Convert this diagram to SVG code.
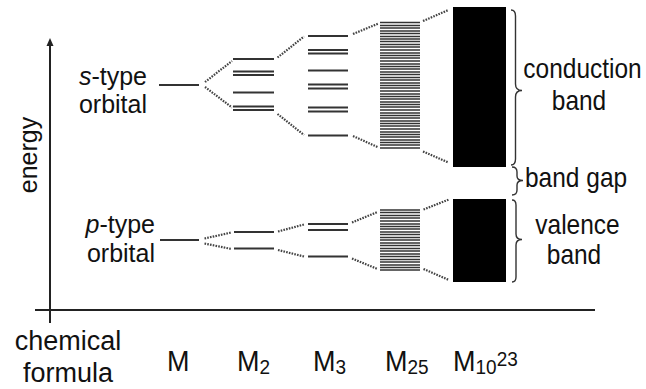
<svg xmlns="http://www.w3.org/2000/svg" width="646" height="389" viewBox="0 0 646 389">
<defs>
<style>
text{font-family:"Liberation Sans",Arial,sans-serif;fill:#111}
.lv{stroke:#333;stroke-width:2;fill:none}
.blk{stroke:#333;stroke-width:1.7;fill:none}
.dot{stroke:#444;stroke-width:2.2;stroke-dasharray:1.6 1.2;fill:none}
.ax{stroke:#222;stroke-width:2;fill:none}
.br{stroke:#333;stroke-width:1.4;fill:none}
.lab{font-size:25px}
.rl{font-size:24.5px}
.bot{font-size:27px}
</style>
</defs>
<rect width="646" height="389" fill="#fff"/>

<g id="axes">
<line class="ax" x1="50" y1="323" x2="50" y2="45"/>
<path d="M46.5,46 L50,38 L53.5,46 Z" fill="#222"/>
<line class="ax" x1="35" y1="310" x2="595" y2="310"/>
<text class="lab" font-size="26" transform="translate(37,155) rotate(-90)" text-anchor="middle">energy</text>
</g>

<g id="labels-left">
<text class="lab" x="147" y="85" text-anchor="end"><tspan font-style="italic">s</tspan>-type</text>
<text class="lab" x="147" y="113" text-anchor="end">orbital</text>
<text class="lab" x="155" y="233" text-anchor="end"><tspan font-style="italic">p</tspan>-type</text>
<text class="lab" x="155" y="261.5" text-anchor="end">orbital</text>
</g>

<g id="col-M">
<line class="lv" x1="159" y1="85" x2="199" y2="85"/>
<line class="lv" x1="160" y1="240" x2="199" y2="240"/>
</g>

<g id="col-M2">
<path class="lv" d="M233,59H274M233,71.5H274M233,75H274M233,92.5H274M233,106.5H274M233,110H274"/>
<path class="lv" d="M234,232H274M234,248.5H274"/>
</g>

<g id="col-M3">
<path class="lv" d="M308,36H348M308,50H348M308,53.5H348M308,70.5H348M308,84.5H348M308,88.5H348M308,107.5H348M308,111.5H348M308,135.5H348"/>
<path class="lv" d="M308,224H348M308,230H348M308,256.5H348"/>
</g>

<g id="col-M25">
<path class="blk" d="M380,22.5h40M380,25.5h40M380,28h40M380,31h40M380,33.5h40M380,36.5h40M380,39h40M380,41.5h40M380,44.5h40M380,47h40M380,50h40M380,53h40M380,55.5h40M380,58h40M380,61h40M380,64h40M380,66.5h40M380,69h40M380,72h40M380,74.5h40M380,77.5h40M380,80h40M380,83h40M380,85.5h40M380,88h40M380,91h40M380,94h40M380,96.5h40M380,99h40M380,102h40M380,104.5h40M380,107h40M380,110h40M380,113h40M380,115.5h40M380,118h40M380,121h40M380,123.5h40M380,126h40M380,129h40M380,132h40M380,134.5h40M380,137h40M380,140h40M380,142.5h40M380,145h40M380,148h40"/>
<path class="blk" d="M380,210h40M380,212.5h40M380,215.5h40M380,218h40M380,221h40M380,224h40M380,226.5h40M380,229h40M380,232h40M380,234.5h40M380,237.5h40M380,240h40M380,243h40M380,245.5h40M380,248.5h40M380,251h40M380,254h40M380,256.5h40M380,259.5h40M380,262h40M380,265h40M380,267.5h40M380,270h40"/>
</g>

<g id="col-M1023">
<rect x="453" y="7" width="53" height="160" fill="#000"/>
<rect x="453" y="199" width="53" height="83" fill="#000"/>
</g>

<g id="connectors">
<path class="dot" d="M205,82 L232,61 M205,87 L232,107.5"/>
<path class="dot" d="M277.5,57.5 L304,36.5 M277.5,114 L304,135"/>
<path class="dot" d="M353,34 L378.5,23.5 M353,136 L378.5,147.5"/>
<path class="dot" d="M423,21 L448.5,10 M423,151.5 L448.5,162.5"/>
<path class="dot" d="M204.5,238.5 L231.5,232.5 M204.5,243.5 L231.5,249"/>
<path class="dot" d="M278,231.5 L304,224.5 M278,250 L304,256.5"/>
<path class="dot" d="M352,222.5 L377.5,212 M352,258.5 L377.5,269"/>
<path class="dot" d="M423.5,209.5 L449,199.5 M423.5,269 L449,280"/>
</g>

<g id="braces">
<path class="br" d="M511,10 Q515.5,10 515.5,16 L515.5,84 Q515.5,90.5 522,90.5 Q515.5,90.5 515.5,97 L515.5,159 Q515.5,165 511,165"/>
<path class="br" d="M512,167 Q517,167 517,172 L517,176 Q517,180.5 523,180.5 Q517,180.5 517,185 L517,190 Q517,195 512,195"/>
<path class="br" d="M512,200 Q516,200 516,205 L516,234 Q516,239.5 522,239.5 Q516,239.5 516,245 L516,277 Q516,282 512,282"/>
</g>

<g id="labels-right">
<text class="rl" transform="translate(582.5,78) scale(1,1.12)" text-anchor="middle">conduction</text>
<text class="rl" transform="translate(579,110) scale(1,1.12)" text-anchor="middle">band</text>
<text class="rl" transform="translate(525,187) scale(1,1.12)">band gap</text>
<text class="rl" transform="translate(577.5,233.5) scale(1,1.12)" text-anchor="middle">valence</text>
<text class="rl" transform="translate(574,263.5) scale(1,1.12)" text-anchor="middle">band</text>
</g>

<g id="labels-bottom">
<text class="bot" x="68" y="350" text-anchor="middle">chemical</text>
<text class="bot" x="68" y="382" text-anchor="middle">formula</text>
<text class="bot" transform="translate(167,371) scale(1,1.1)">M</text>
<text class="bot" transform="translate(237,371) scale(1,1.1)">M<tspan font-size="19" dy="3">2</tspan></text>
<text class="bot" transform="translate(313,371) scale(1,1.1)">M<tspan font-size="19" dy="3">3</tspan></text>
<text class="bot" transform="translate(385,371) scale(1,1.1)">M<tspan font-size="19" dy="3">25</tspan></text>
<text class="bot" transform="translate(453,371) scale(1,1.1)">M<tspan font-size="19" dy="3">10</tspan><tspan font-size="19" dy="-8">23</tspan></text>
</g>
</svg>
